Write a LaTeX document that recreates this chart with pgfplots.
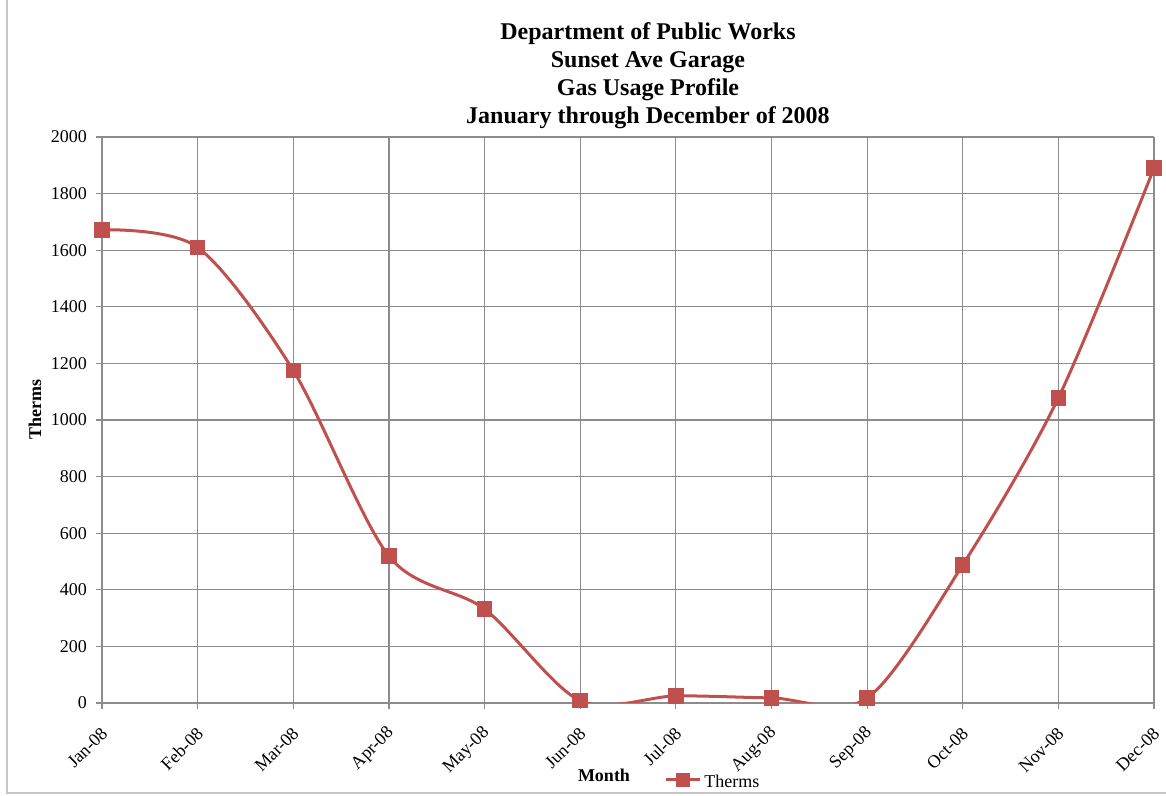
\documentclass[border=0pt]{standalone}
\usepackage{pgfplots}
\pgfplotsset{compat=1.18}
\usepackage{fontspec}
\setmainfont{Liberation Serif}
\definecolor{exred}{HTML}{C0504D}
\definecolor{gridgray}{HTML}{8C8C8C}
\begin{document}
\begin{tikzpicture}
\useasboundingbox (-51pt,-46.5pt) rectangle (532pt,351.5pt);
\draw[gray!45, line width=0.6pt] (-47.5pt,351.5pt) -- (-47.5pt,-45pt) -- (532pt,-45pt);
\begin{axis}[
  at={(0,0)}, anchor=south west,
  scale only axis, width=526pt, height=283pt,
  xmin=0, xmax=11, ymin=0, ymax=2000,
  xtick={0,...,11},
  xticklabels={Jan-08,Feb-08,Mar-08,Apr-08,May-08,Jun-08,Jul-08,Aug-08,Sep-08,Oct-08,Nov-08,Dec-08},
  ytick={0,200,...,2000},
  xmajorgrids, ymajorgrids,
  grid style={gridgray, line width=0.6pt},
  axis line style={gridgray, line width=0.8pt},
  tick style={gridgray, line width=0.6pt},
  tick align=outside, major tick length=3pt,
  axis x line*=bottom, axis y line*=left,
  x axis line style={-},
  y axis line style={-},
  /pgf/number format/assume math mode=true,
  /pgf/number format/1000 sep={},
  ticklabel style={font=\fontsize{9}{10}\selectfont},
  xticklabel style={xshift=2pt, yshift=-10pt, rotate=45, anchor=east, inner sep=1pt},
  yticklabel style={xshift=-1pt},
  clip=true,
]
\addplot[exred, line width=1.5pt, smooth, tension=0.5, mark=square*, mark size=3.6pt, mark options={solid, fill=exred, line width=0pt}]
coordinates {
(0,1672) (1,1610) (2,1175) (3,519) (4,332) (5,8) (6,25) (7,18) (8,17) (9,488) (10,1078) (11,1890)
};
\end{axis}
\node[align=center, font=\bfseries\fontsize{12}{14}\selectfont, inner sep=0pt] at (273pt,313.5pt)
 {Department of Public Works\\Sunset Ave Garage\\Gas Usage Profile\\January through December of 2008};
\node[rotate=90, font=\bfseries\fontsize{9}{10}\selectfont] at (-33.5pt,146.5pt) {Therms};
\node[font=\bfseries\fontsize{9}{10}\selectfont] at (251pt,-36pt) {Month};
\draw[exred, line width=1.5pt] (282pt,-38.5pt) -- (299pt,-38.5pt);
\fill[exred] (290.5pt,-38.5pt) ++(-3.6pt,-3.6pt) rectangle ++(7.2pt,7.2pt);
\node[anchor=west, font=\fontsize{9}{10}\selectfont, inner sep=1pt] at (300pt,-39pt) {Therms};
\end{tikzpicture}
\end{document}
